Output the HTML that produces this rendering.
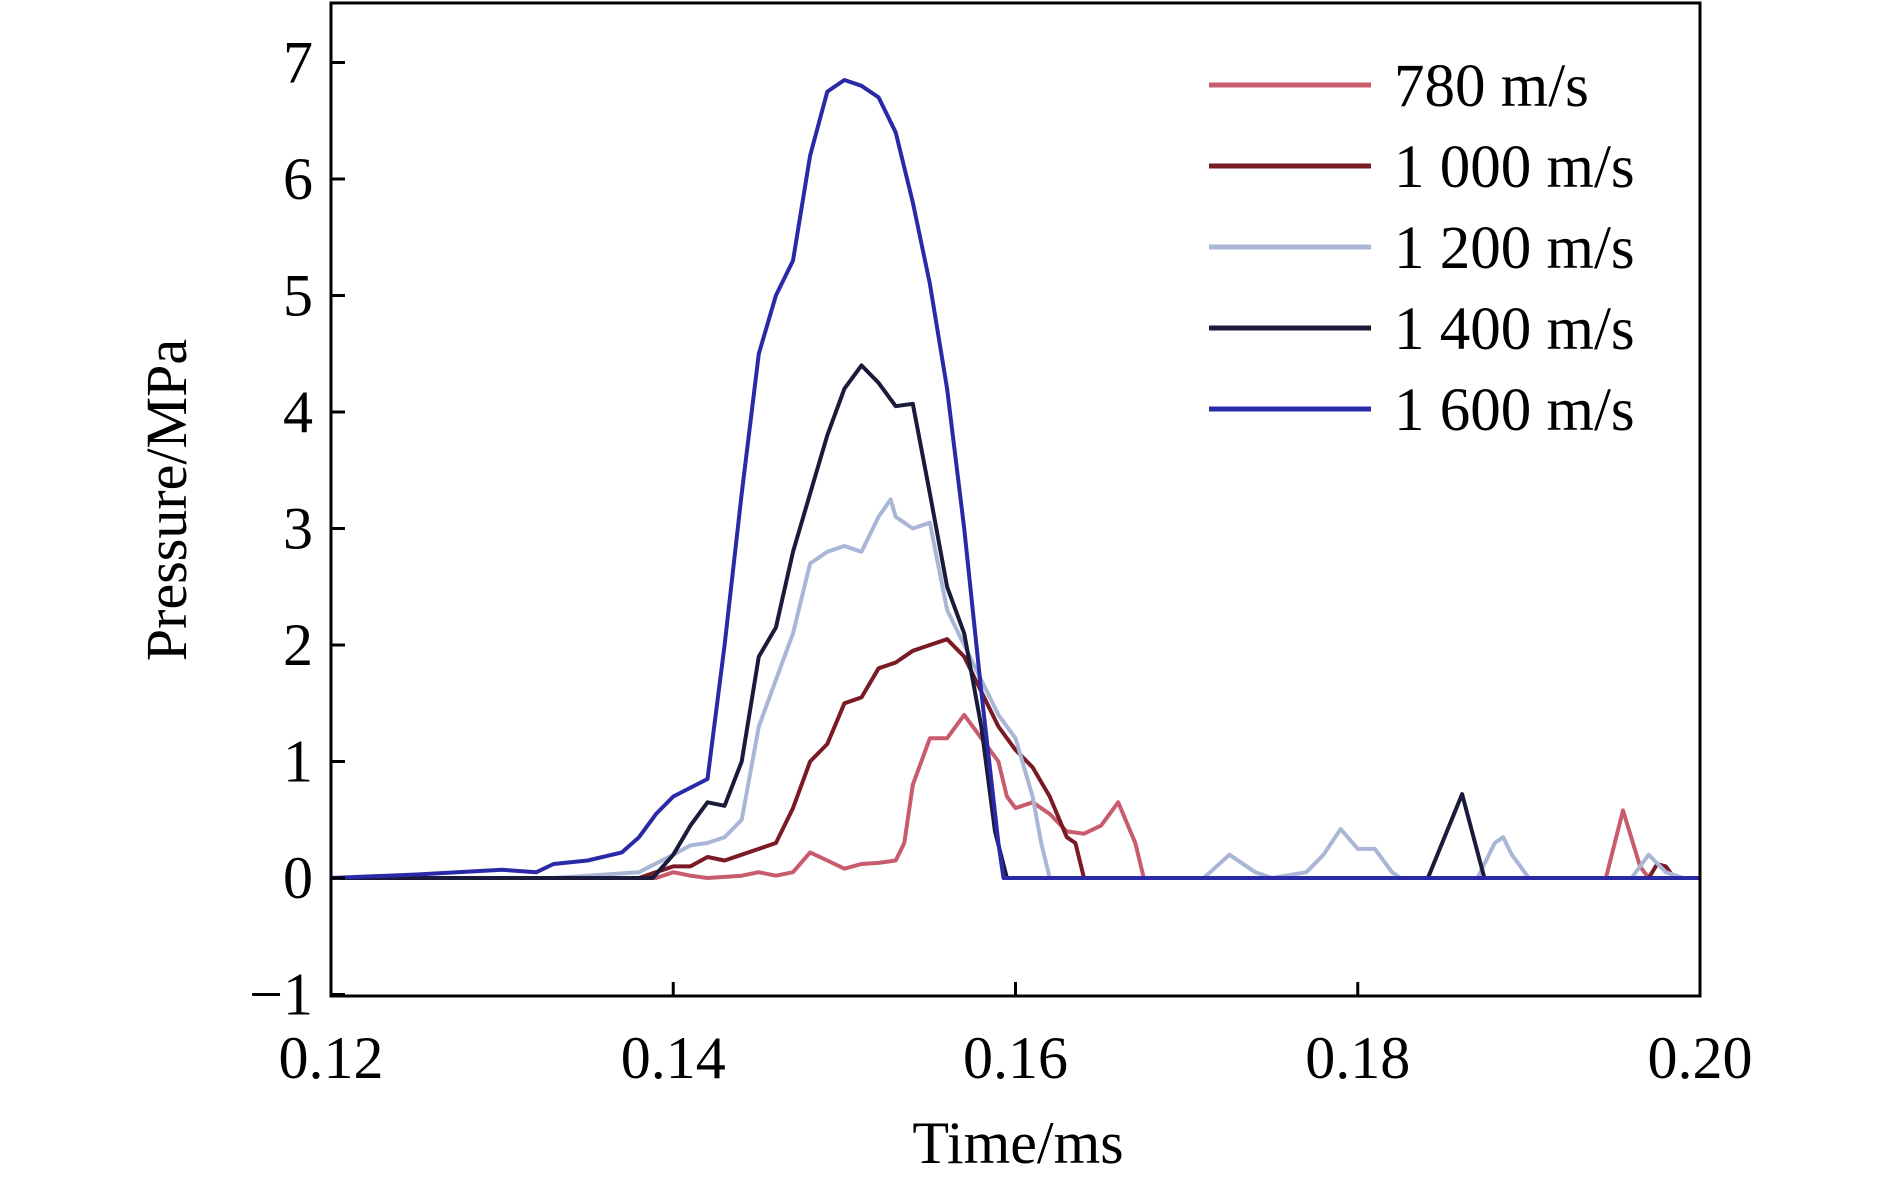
<!DOCTYPE html>
<html><head><meta charset="utf-8"><style>
html,body{margin:0;padding:0;background:#fff;}
svg{display:block;font-family:"Liberation Serif",serif;}
</style></head><body>
<svg id="chart" width="1890" height="1183" viewBox="0 0 1890 1183" xmlns="http://www.w3.org/2000/svg">
<g id="series"></g>
<rect x="331" y="3" width="1369" height="993" fill="none" stroke="#000" stroke-width="3"/>
<g id="axes"></g>
<text x="1018" y="1163" font-size="60" text-anchor="middle">Time/ms</text>
<text transform="translate(186,500) rotate(-90)" font-size="58" text-anchor="middle">Pressure/MPa</text>
<g id="legend"></g>
</svg>
<script>
const xTicks=[0.12,0.14,0.16,0.18,0.20];
const xTickLabels=["0.12","0.14","0.16","0.18","0.20"];
const yTicks=[-1,0,1,2,3,4,5,6,7];
const yTickLabels=["\u22121","0","1","2","3","4","5","6","7"];
const seriesNames=["780 m/s","1 000 m/s","1 200 m/s","1 400 m/s","1 600 m/s"];
const seriesColors=["#c95c6c","#7a1a24","#aab6d6","#1a1a3a","#2a2aa8"];
const t780=[0.12,0.139,0.140,0.141,0.142,0.144,0.145,0.146,0.147,0.148,0.149,0.150,0.151,0.152,0.153,0.1535,0.154,0.155,0.156,0.157,0.158,0.159,0.1595,0.160,0.161,0.162,0.163,0.164,0.165,0.166,0.167,0.1675,0.1945,0.1955,0.1965,0.197,0.2];
const p780=[0,0,0.05,0.02,0,0.02,0.05,0.02,0.05,0.22,0.15,0.08,0.12,0.13,0.15,0.3,0.8,1.2,1.2,1.4,1.2,1.0,0.7,0.6,0.65,0.55,0.4,0.38,0.45,0.65,0.3,0,0,0.58,0.1,0,0];
const t1000=[0.12,0.138,0.139,0.140,0.141,0.142,0.143,0.144,0.145,0.146,0.147,0.148,0.149,0.150,0.151,0.152,0.153,0.154,0.155,0.156,0.157,0.158,0.159,0.160,0.161,0.162,0.163,0.1635,0.164,0.197,0.1975,0.198,0.1985,0.2];
const p1000=[0,0,0.05,0.1,0.1,0.18,0.15,0.2,0.25,0.3,0.6,1.0,1.15,1.5,1.55,1.8,1.85,1.95,2.0,2.05,1.9,1.6,1.3,1.1,0.95,0.7,0.35,0.3,0,0,0.12,0.1,0,0];
const t1200=[0.12,0.133,0.135,0.138,0.140,0.141,0.142,0.143,0.144,0.145,0.146,0.147,0.148,0.149,0.150,0.151,0.152,0.1527,0.153,0.154,0.155,0.156,0.157,0.158,0.159,0.160,0.161,0.1615,0.162,0.171,0.1725,0.174,0.175,0.177,0.178,0.179,0.180,0.181,0.182,0.1825,0.187,0.188,0.1885,0.189,0.190,0.196,0.197,0.198,0.199,0.2];
const p1200=[0,0,0.02,0.05,0.2,0.28,0.3,0.35,0.5,1.3,1.7,2.1,2.7,2.8,2.85,2.8,3.1,3.25,3.1,3.0,3.05,2.3,2.0,1.7,1.4,1.2,0.7,0.3,0,0,0.2,0.05,0,0.05,0.2,0.42,0.25,0.25,0.05,0,0,0.3,0.35,0.2,0,0,0.2,0.05,0,0];
const t1400=[0.12,0.1388,0.140,0.141,0.142,0.143,0.144,0.145,0.146,0.147,0.148,0.149,0.150,0.151,0.152,0.153,0.154,0.155,0.156,0.157,0.158,0.1588,0.1595,0.1841,0.1861,0.1874,0.2];
const p1400=[0,0,0.2,0.45,0.65,0.62,1.0,1.9,2.15,2.8,3.3,3.8,4.2,4.4,4.25,4.05,4.07,3.3,2.5,2.1,1.3,0.4,0,0,0.72,0,0];
const t1600=[0.12,0.125,0.13,0.132,0.133,0.135,0.137,0.138,0.139,0.140,0.142,0.143,0.144,0.145,0.146,0.147,0.148,0.149,0.150,0.151,0.152,0.153,0.154,0.155,0.156,0.157,0.158,0.159,0.1593,0.2];
const p1600=[0,0.03,0.07,0.05,0.12,0.15,0.22,0.35,0.55,0.7,0.85,2.0,3.3,4.5,5.0,5.3,6.2,6.75,6.85,6.8,6.7,6.4,5.8,5.1,4.2,3.0,1.6,0.3,0,0];
const seriesT=[t780,t1000,t1200,t1400,t1600];
const seriesP=[p780,p1000,p1200,p1400,p1600];

const NS="http://www.w3.org/2000/svg";
const X0=331,X1=1700,Y0=878,YU=116.5;
function sx(t){return X0+(t-0.12)/0.08*(X1-X0);}
function sy(p){return Y0-p*YU;}
function mk(tag,attrs,parent){const e=document.createElementNS(NS,tag);for(const k in attrs)e.setAttribute(k,attrs[k]);parent.appendChild(e);return e;}

const axes=document.getElementById('axes');
xTicks.forEach((t,i)=>{
  const l=mk('line',{x1:sx(t),x2:sx(t),y1:996,y2:982,stroke:'#000','stroke-width':3},axes);
  
  
  const tx=mk('text',{x:sx(t),y:1078,'font-size':60,'text-anchor':'middle'},axes);
  tx.textContent=xTickLabels[i];
  
  
});
yTicks.forEach((p,i)=>{
  const l=mk('line',{x1:331,x2:345,y1:sy(p),y2:sy(p),stroke:'#000','stroke-width':3},axes);
  
  
  const tx=mk('text',{x:313,y:sy(p)+20,'font-size':60,'text-anchor':'end'},axes);
  tx.textContent=yTickLabels[i];
  
  
});

const sg=document.getElementById('series');
seriesT.forEach((ts,i)=>{
  const d=ts.map((t,j)=>(j?'L':'M')+sx(t).toFixed(1)+','+sy(seriesP[i][j]).toFixed(1)).join(' ');
  const p=mk('path',{d:d,fill:'none',stroke:seriesColors[i],'stroke-width':4,'stroke-linejoin':'round'},sg);
  
  
});

const lg=document.getElementById('legend');
seriesNames.forEach((n,i)=>{
  const y=85+i*81;
  const l=mk('line',{x1:1209,x2:1371,y1:y,y2:y,stroke:seriesColors[i],'stroke-width':5},lg);
  
  
  const tx=mk('text',{x:1394,y:y+21,'font-size':61},lg);
  tx.textContent=n;
  
  
});
</script>
</body></html>
